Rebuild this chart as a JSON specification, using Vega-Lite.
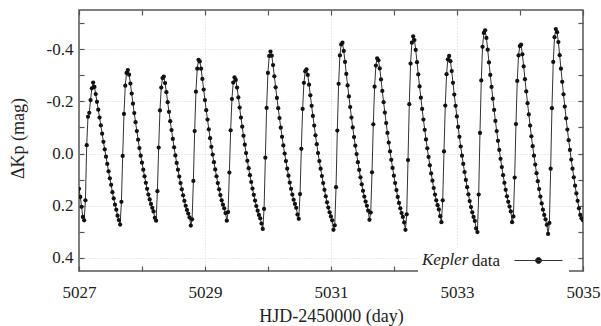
{
"$schema": "https://vega.github.io/schema/vega-lite/v6.json",
"width": 504, "height": 261,
"autosize": {"type": "none"},
"padding": {"left": 79, "top": 10, "right": 18, "bottom": 55},
"background": "white",
"config": {"view": {"stroke": "#555", "strokeWidth": 1.5}, "font": "Liberation Serif"},
"data": {"values": [
{"t":5027.0000,"m":0.135},{"t":5027.0204,"m":0.166},{"t":5027.0408,"m":0.204},{"t":5027.0612,"m":0.243},{"t":5027.0816,"m":0.256},{"t":5027.1020,"m":0.179},{"t":5027.1224,"m":-0.032},{"t":5027.1428,"m":-0.141},{"t":5027.1632,"m":-0.156},{"t":5027.1836,"m":-0.205},
{"t":5027.2040,"m":-0.250},{"t":5027.2244,"m":-0.272},{"t":5027.2448,"m":-0.255},{"t":5027.2652,"m":-0.228},{"t":5027.2856,"m":-0.198},{"t":5027.3060,"m":-0.168},{"t":5027.3264,"m":-0.138},{"t":5027.3468,"m":-0.108},{"t":5027.3672,"m":-0.076},{"t":5027.3876,"m":-0.045},
{"t":5027.4080,"m":-0.016},{"t":5027.4284,"m":0.012},{"t":5027.4488,"m":0.040},{"t":5027.4692,"m":0.068},{"t":5027.4896,"m":0.095},{"t":5027.5100,"m":0.120},{"t":5027.5304,"m":0.148},{"t":5027.5508,"m":0.172},{"t":5027.5712,"m":0.196},{"t":5027.5916,"m":0.215},
{"t":5027.6120,"m":0.238},{"t":5027.6324,"m":0.255},{"t":5027.6528,"m":0.272},{"t":5027.6732,"m":0.185},{"t":5027.6936,"m":0.009},{"t":5027.7140,"m":-0.152},{"t":5027.7344,"m":-0.260},{"t":5027.7548,"m":-0.309},{"t":5027.7752,"m":-0.320},{"t":5027.7956,"m":-0.302},
{"t":5027.8160,"m":-0.268},{"t":5027.8364,"m":-0.230},{"t":5027.8568,"m":-0.191},{"t":5027.8772,"m":-0.155},{"t":5027.8976,"m":-0.120},{"t":5027.9180,"m":-0.086},{"t":5027.9384,"m":-0.053},{"t":5027.9588,"m":-0.021},{"t":5027.9792,"m":0.008},{"t":5027.9996,"m":0.035},
{"t":5028.0200,"m":0.062},{"t":5028.0404,"m":0.087},{"t":5028.0608,"m":0.112},{"t":5028.0812,"m":0.135},{"t":5028.1016,"m":0.157},{"t":5028.1220,"m":0.176},{"t":5028.1424,"m":0.193},{"t":5028.1628,"m":0.208},{"t":5028.1832,"m":0.222},{"t":5028.2036,"m":0.246},
{"t":5028.2240,"m":0.257},{"t":5028.2444,"m":0.144},{"t":5028.2648,"m":-0.023},{"t":5028.2852,"m":-0.165},{"t":5028.3056,"m":-0.253},{"t":5028.3260,"m":-0.289},{"t":5028.3464,"m":-0.295},{"t":5028.3668,"m":-0.270},{"t":5028.3872,"m":-0.235},{"t":5028.4076,"m":-0.197},
{"t":5028.4280,"m":-0.160},{"t":5028.4484,"m":-0.124},{"t":5028.4688,"m":-0.090},{"t":5028.4892,"m":-0.056},{"t":5028.5096,"m":-0.024},{"t":5028.5300,"m":0.007},{"t":5028.5504,"m":0.036},{"t":5028.5708,"m":0.062},{"t":5028.5912,"m":0.088},{"t":5028.6116,"m":0.113},
{"t":5028.6320,"m":0.137},{"t":5028.6524,"m":0.160},{"t":5028.6728,"m":0.181},{"t":5028.6932,"m":0.200},{"t":5028.7136,"m":0.216},{"t":5028.7340,"m":0.230},{"t":5028.7544,"m":0.245},{"t":5028.7748,"m":0.276},{"t":5028.7952,"m":0.252},{"t":5028.8156,"m":0.105},
{"t":5028.8360,"m":-0.086},{"t":5028.8564,"m":-0.237},{"t":5028.8768,"m":-0.325},{"t":5028.8972,"m":-0.359},{"t":5028.9176,"m":-0.353},{"t":5028.9380,"m":-0.325},{"t":5028.9584,"m":-0.286},{"t":5028.9788,"m":-0.245},{"t":5028.9992,"m":-0.205},{"t":5029.0196,"m":-0.166},
{"t":5029.0400,"m":-0.130},{"t":5029.0604,"m":-0.093},{"t":5029.0808,"m":-0.059},{"t":5029.1012,"m":-0.026},{"t":5029.1216,"m":0.004},{"t":5029.1420,"m":0.033},{"t":5029.1624,"m":0.061},{"t":5029.1828,"m":0.087},{"t":5029.2032,"m":0.113},{"t":5029.2236,"m":0.137},
{"t":5029.2440,"m":0.159},{"t":5029.2644,"m":0.179},{"t":5029.2848,"m":0.196},{"t":5029.3052,"m":0.210},{"t":5029.3256,"m":0.228},{"t":5029.3460,"m":0.257},{"t":5029.3664,"m":0.224},{"t":5029.3868,"m":0.073},{"t":5029.4072,"m":-0.089},{"t":5029.4276,"m":-0.209},
{"t":5029.4480,"m":-0.272},{"t":5029.4684,"m":-0.292},{"t":5029.4888,"m":-0.282},{"t":5029.5092,"m":-0.253},{"t":5029.5296,"m":-0.215},{"t":5029.5500,"m":-0.176},{"t":5029.5704,"m":-0.138},{"t":5029.5908,"m":-0.103},{"t":5029.6112,"m":-0.068},{"t":5029.6316,"m":-0.034},
{"t":5029.6520,"m":-0.002},{"t":5029.6724,"m":0.028},{"t":5029.6928,"m":0.056},{"t":5029.7132,"m":0.083},{"t":5029.7336,"m":0.109},{"t":5029.7540,"m":0.134},{"t":5029.7744,"m":0.158},{"t":5029.7948,"m":0.180},{"t":5029.8152,"m":0.201},{"t":5029.8356,"m":0.219},
{"t":5029.8560,"m":0.235},{"t":5029.8764,"m":0.248},{"t":5029.8968,"m":0.268},{"t":5029.9172,"m":0.289},{"t":5029.9376,"m":0.212},{"t":5029.9580,"m":0.016},{"t":5029.9784,"m":-0.175},{"t":5029.9988,"m":-0.309},{"t":5030.0192,"m":-0.374},{"t":5030.0396,"m":-0.391},
{"t":5030.0600,"m":-0.375},{"t":5030.0804,"m":-0.339},{"t":5030.1008,"m":-0.296},{"t":5030.1212,"m":-0.254},{"t":5030.1416,"m":-0.213},{"t":5030.1620,"m":-0.174},{"t":5030.1824,"m":-0.136},{"t":5030.2028,"m":-0.099},{"t":5030.2232,"m":-0.064},{"t":5030.2436,"m":-0.031},
{"t":5030.2640,"m":0.000},{"t":5030.2844,"m":0.029},{"t":5030.3048,"m":0.058},{"t":5030.3252,"m":0.085},{"t":5030.3456,"m":0.111},{"t":5030.3660,"m":0.135},{"t":5030.3864,"m":0.157},{"t":5030.4068,"m":0.177},{"t":5030.4272,"m":0.193},{"t":5030.4476,"m":0.208},
{"t":5030.4680,"m":0.234},{"t":5030.4884,"m":0.250},{"t":5030.5088,"m":0.155},{"t":5030.5292,"m":-0.018},{"t":5030.5496,"m":-0.171},{"t":5030.5700,"m":-0.271},{"t":5030.5904,"m":-0.315},{"t":5030.6108,"m":-0.323},{"t":5030.6312,"m":-0.301},{"t":5030.6516,"m":-0.264},
{"t":5030.6720,"m":-0.223},{"t":5030.6924,"m":-0.183},{"t":5030.7128,"m":-0.144},{"t":5030.7332,"m":-0.107},{"t":5030.7536,"m":-0.070},{"t":5030.7740,"m":-0.036},{"t":5030.7944,"m":-0.002},{"t":5030.8148,"m":0.029},{"t":5030.8352,"m":0.058},{"t":5030.8556,"m":0.086},
{"t":5030.8760,"m":0.113},{"t":5030.8964,"m":0.139},{"t":5030.9168,"m":0.164},{"t":5030.9372,"m":0.187},{"t":5030.9576,"m":0.207},{"t":5030.9780,"m":0.225},{"t":5030.9984,"m":0.241},{"t":5031.0188,"m":0.256},{"t":5031.0392,"m":0.292},{"t":5031.0596,"m":0.275},
{"t":5031.0800,"m":0.129},{"t":5031.1004,"m":-0.088},{"t":5031.1208,"m":-0.267},{"t":5031.1412,"m":-0.376},{"t":5031.1616,"m":-0.418},{"t":5031.1820,"m":-0.425},{"t":5031.2024,"m":-0.393},{"t":5031.2228,"m":-0.351},{"t":5031.2432,"m":-0.305},{"t":5031.2636,"m":-0.261},
{"t":5031.2840,"m":-0.219},{"t":5031.3044,"m":-0.178},{"t":5031.3248,"m":-0.138},{"t":5031.3452,"m":-0.100},{"t":5031.3656,"m":-0.063},{"t":5031.3860,"m":-0.030},{"t":5031.4064,"m":0.002},{"t":5031.4268,"m":0.033},{"t":5031.4472,"m":0.063},{"t":5031.4676,"m":0.091},
{"t":5031.4880,"m":0.118},{"t":5031.5084,"m":0.143},{"t":5031.5288,"m":0.165},{"t":5031.5492,"m":0.184},{"t":5031.5696,"m":0.200},{"t":5031.5900,"m":0.219},{"t":5031.6104,"m":0.254},{"t":5031.6308,"m":0.226},{"t":5031.6512,"m":0.072},{"t":5031.6716,"m":-0.112},
{"t":5031.6920,"m":-0.256},{"t":5031.7124,"m":-0.337},{"t":5031.7328,"m":-0.365},{"t":5031.7532,"m":-0.357},{"t":5031.7736,"m":-0.326},{"t":5031.7940,"m":-0.284},{"t":5031.8144,"m":-0.240},{"t":5031.8348,"m":-0.197},{"t":5031.8552,"m":-0.157},{"t":5031.8756,"m":-0.117},
{"t":5031.8960,"m":-0.079},{"t":5031.9164,"m":-0.042},{"t":5031.9368,"m":-0.008},{"t":5031.9572,"m":0.024},{"t":5031.9776,"m":0.055},{"t":5031.9980,"m":0.085},{"t":5032.0184,"m":0.113},{"t":5032.0388,"m":0.140},{"t":5032.0592,"m":0.166},{"t":5032.0796,"m":0.189},
{"t":5032.1000,"m":0.210},{"t":5032.1204,"m":0.228},{"t":5032.1408,"m":0.243},{"t":5032.1612,"m":0.264},{"t":5032.1816,"m":0.292},{"t":5032.2020,"m":0.233},{"t":5032.2224,"m":0.025},{"t":5032.2428,"m":-0.189},{"t":5032.2632,"m":-0.345},{"t":5032.2836,"m":-0.425},
{"t":5032.3040,"m":-0.449},{"t":5032.3244,"m":-0.435},{"t":5032.3448,"m":-0.397},{"t":5032.3652,"m":-0.350},{"t":5032.3856,"m":-0.303},{"t":5032.4060,"m":-0.257},{"t":5032.4264,"m":-0.214},{"t":5032.4468,"m":-0.171},{"t":5032.4672,"m":-0.130},{"t":5032.4876,"m":-0.091},
{"t":5032.5080,"m":-0.054},{"t":5032.5284,"m":-0.020},{"t":5032.5488,"m":0.013},{"t":5032.5692,"m":0.045},{"t":5032.5896,"m":0.076},{"t":5032.6100,"m":0.104},{"t":5032.6304,"m":0.132},{"t":5032.6508,"m":0.157},{"t":5032.6712,"m":0.179},{"t":5032.6916,"m":0.198},
{"t":5032.7120,"m":0.214},{"t":5032.7324,"m":0.240},{"t":5032.7528,"m":0.263},{"t":5032.7732,"m":0.179},{"t":5032.7936,"m":-0.008},{"t":5032.8140,"m":-0.184},{"t":5032.8344,"m":-0.304},{"t":5032.8548,"m":-0.361},{"t":5032.8752,"m":-0.374},{"t":5032.8956,"m":-0.354},
{"t":5032.9160,"m":-0.316},{"t":5032.9364,"m":-0.271},{"t":5032.9568,"m":-0.226},{"t":5032.9772,"m":-0.183},{"t":5032.9976,"m":-0.142},{"t":5033.0180,"m":-0.102},{"t":5033.0384,"m":-0.064},{"t":5033.0588,"m":-0.027},{"t":5033.0792,"m":0.008},{"t":5033.0996,"m":0.040},
{"t":5033.1200,"m":0.071},{"t":5033.1404,"m":0.101},{"t":5033.1608,"m":0.129},{"t":5033.1812,"m":0.156},{"t":5033.2016,"m":0.182},{"t":5033.2220,"m":0.205},{"t":5033.2424,"m":0.225},{"t":5033.2628,"m":0.243},{"t":5033.2832,"m":0.258},{"t":5033.3036,"m":0.287},
{"t":5033.3240,"m":0.301},{"t":5033.3444,"m":0.157},{"t":5033.3648,"m":-0.079},{"t":5033.3852,"m":-0.280},{"t":5033.4056,"m":-0.409},{"t":5033.4260,"m":-0.462},{"t":5033.4464,"m":-0.472},{"t":5033.4668,"m":-0.443},{"t":5033.4872,"m":-0.398},{"t":5033.5076,"m":-0.349},
{"t":5033.5280,"m":-0.301},{"t":5033.5484,"m":-0.255},{"t":5033.5688,"m":-0.210},{"t":5033.5892,"m":-0.167},{"t":5033.6096,"m":-0.125},{"t":5033.6300,"m":-0.086},{"t":5033.6504,"m":-0.049},{"t":5033.6708,"m":-0.014},{"t":5033.6912,"m":0.020},{"t":5033.7116,"m":0.052},
{"t":5033.7320,"m":0.083},{"t":5033.7524,"m":0.112},{"t":5033.7728,"m":0.139},{"t":5033.7932,"m":0.164},{"t":5033.8136,"m":0.185},{"t":5033.8340,"m":0.203},{"t":5033.8544,"m":0.222},{"t":5033.8748,"m":0.263},{"t":5033.8952,"m":0.241},{"t":5033.9156,"m":0.092},
{"t":5033.9360,"m":-0.113},{"t":5033.9564,"m":-0.278},{"t":5033.9768,"m":-0.376},{"t":5033.9972,"m":-0.412},{"t":5034.0176,"m":-0.417},{"t":5034.0380,"m":-0.380},{"t":5034.0584,"m":-0.334},{"t":5034.0788,"m":-0.285},{"t":5034.0992,"m":-0.238},{"t":5034.1196,"m":-0.193},
{"t":5034.1400,"m":-0.150},{"t":5034.1604,"m":-0.107},{"t":5034.1808,"m":-0.066},{"t":5034.2012,"m":-0.028},{"t":5034.2216,"m":0.008},{"t":5034.2420,"m":0.042},{"t":5034.2624,"m":0.075},{"t":5034.2828,"m":0.106},{"t":5034.3032,"m":0.136},{"t":5034.3236,"m":0.165},
{"t":5034.3440,"m":0.191},{"t":5034.3644,"m":0.215},{"t":5034.3848,"m":0.235},{"t":5034.4052,"m":0.252},{"t":5034.4256,"m":0.273},{"t":5034.4460,"m":0.308},{"t":5034.4664,"m":0.266},{"t":5034.4868,"m":0.058},{"t":5034.5072,"m":-0.174},{"t":5034.5276,"m":-0.351},
{"t":5034.5480,"m":-0.446},{"t":5034.5684,"m":-0.477},{"t":5034.5888,"m":-0.465},{"t":5034.6092,"m":-0.427},{"t":5034.6296,"m":-0.377},{"t":5034.6500,"m":-0.325},{"t":5034.6704,"m":-0.275},{"t":5034.6908,"m":-0.227},{"t":5034.7112,"m":-0.180},{"t":5034.7316,"m":-0.135},
{"t":5034.7520,"m":-0.092},{"t":5034.7724,"m":-0.051},{"t":5034.7928,"m":-0.014},{"t":5034.8132,"m":0.023},{"t":5034.8336,"m":0.058},{"t":5034.8540,"m":0.091},{"t":5034.8744,"m":0.123},{"t":5034.8948,"m":0.153},{"t":5034.9152,"m":0.181},{"t":5034.9356,"m":0.210},
{"t":5034.9560,"m":0.235},{"t":5034.9764,"m":0.248},{"t":5034.9968,"m":0.255}
]},
"layer": [
{"mark": {"type": "line", "color": "#333", "strokeWidth": 1, "clip": true},
 "encoding": {
  "x": {"field": "t", "type": "quantitative", "scale": {"domain": [5027, 5035], "nice": false, "zero": false},
    "axis": {"orient": "bottom", "values": [5027,5028,5029,5030,5031,5032,5033,5034,5035], "format": "d", "labelFlush": false, "labelOverlap": false,
      "labelExpr": "datum.value % 2 == 1 ? datum.label : ''",
      "domain": false, "tickSize": -5, "tickColor": "#555", "tickWidth": 1.2,
      "labelPadding": 18, "labelFontSize": 17, "labelColor": "#222", "labelFont": "Liberation Serif",
      "grid": true, "gridColor": "#d4d4d4", "gridDash": [1, 2], "gridWidth": 1,
      "gridOpacity": {"condition": {"test": "datum.value % 2 == 1 && datum.value > 5027 && datum.value < 5035", "value": 1}, "value": 0},
      "title": "HJD-2450000 (day)", "titleFont": "Liberation Serif", "titleFontSize": 18, "titleFontWeight": "normal", "titleColor": "#222",
      "titleBaseline": "alphabetic", "titleY": 50}},
  "y": {"field": "m", "type": "quantitative", "scale": {"domain": [-0.55, 0.45], "reverse": true, "nice": false, "zero": false},
    "axis": {"orient": "left", "values": [-0.5,-0.4,-0.3,-0.2,-0.1,0,0.1,0.2,0.3,0.4], "labelFlush": false, "labelOverlap": false,
      "labelExpr": "abs(round(datum.value*10)) % 2 == 0 ? (datum.value < -0.001 ? '-' : '') + format(abs(datum.value), '.1f') : ''",
      "domain": false, "tickSize": -5, "tickColor": "#555", "tickWidth": 1.2,
      "labelPadding": 11, "labelFontSize": 17, "labelColor": "#222", "labelFont": "Liberation Serif",
      "grid": true, "gridColor": "#d4d4d4", "gridDash": [1, 2], "gridWidth": 1,
      "gridOpacity": {"condition": {"test": "abs(round(datum.value*10)) % 2 == 0", "value": 1}, "value": 0},
      "title": "ΔKp (mag)", "titleFont": "Liberation Serif", "titleFontSize": 18, "titleFontWeight": "normal", "titleColor": "#222",
      "titleAngle": -90, "titleBaseline": "middle", "titleAlign": "center", "titleX": -61, "titleY": 128}}
 }},
{"mark": {"type": "point", "filled": true, "size": 18, "opacity": 1, "clip": true},
 "encoding": {
  "x": {"field": "t", "type": "quantitative", "scale": {"domain": [5027, 5035], "nice": false, "zero": false}, "axis": null},
  "y": {"field": "m", "type": "quantitative", "scale": {"domain": [-0.55, 0.45], "reverse": true, "nice": false, "zero": false}, "axis": null},
  "color": {"datum": "data", "scale": {"range": ["#111"]},
    "legend": {"orient": "none", "legendX": 339, "legendY": 238, "padding": 4, "fillColor": "white",
      "title": "Kepler", "titleOrient": "left", "titleFontStyle": "italic", "titleFontWeight": "normal", "titleFontSize": 17, "titleFont": "Liberation Serif", "titleColor": "#222", "titlePadding": 61, "titleBaseline": "middle",
      "labelFontSize": 17, "labelFont": "Liberation Serif", "labelColor": "#222", "labelAlign": "right", "labelOffset": -47,
      "symbolType": "M-4.8,0L4.8,0M-0.6,0A0.6,0.6,0,1,0,0.6,0A0.6,0.6,0,1,0,-0.6,0Z", "symbolSize": 100,
      "symbolFillColor": "#111", "symbolStrokeColor": "#333", "symbolStrokeWidth": 1, "symbolOpacity": 1,
      "encode": {"symbols": {"update": {"stroke": {"value": "#333"}, "strokeWidth": {"value": 1}, "fill": {"value": "#111"}, "opacity": {"value": 1}}}}}}
 }},
{"mark": {"type": "point", "opacity": 0},
 "encoding": {
  "x": {"field": "t", "type": "quantitative", "scale": {"domain": [5027, 5035], "nice": false, "zero": false},
    "axis": {"orient": "top", "values": [5027,5028,5029,5030,5031,5032,5033,5034,5035], "labels": false, "domain": false, "grid": false,
      "tickSize": -5, "tickColor": "#555", "tickWidth": 1.2, "title": null}},
  "y": {"field": "m", "type": "quantitative", "scale": {"domain": [-0.55, 0.45], "reverse": true, "nice": false, "zero": false},
    "axis": {"orient": "right", "values": [-0.5,-0.4,-0.3,-0.2,-0.1,0,0.1,0.2,0.3,0.4], "labels": false, "domain": false, "grid": false,
      "tickSize": -5, "tickColor": "#555", "tickWidth": 1.2, "title": null}}
 }}
],
"resolve": {"axis": {"x": "independent", "y": "independent"}}
}
